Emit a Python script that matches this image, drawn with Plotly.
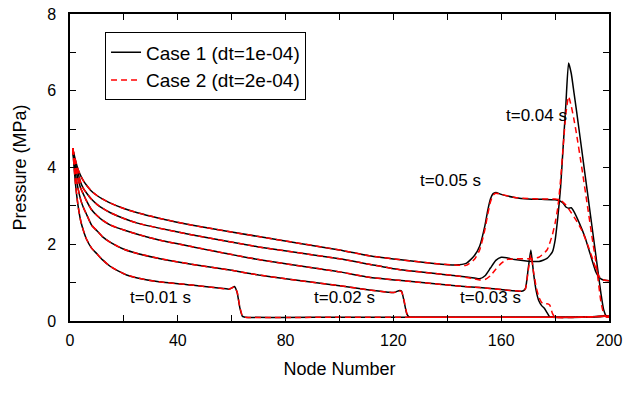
import plotly.graph_objects as go

# ---------------- data ----------------
# Case 1 (dt=1e-04), black solid
c1_t01_x = [1,2,3,4,5,6,8,10,12,15,18,21,25,33,45,55,59,60,61,62,63,64,65,100,150,190,200]
c1_t01_y = [4.5,3.6,3.0,2.6,2.35,2.15,1.9,1.75,1.6,1.42,1.3,1.2,1.12,1.02,0.94,0.86,0.83,0.86,0.9,0.75,0.35,0.12,0.1,0.1,0.1,0.1,0.13]

c1_t02_x = [1,2,3,4,5,6,8,10,12,15,20,25,33,45,60,70,80,100,111,118,120,121,122,123,124,125,126,127,150,190,200]
c1_t02_y = [4.5,3.85,3.45,3.15,2.95,2.8,2.5,2.35,2.2,2.05,1.87,1.76,1.63,1.48,1.32,1.2,1.1,0.92,0.81,0.75,0.74,0.76,0.79,0.78,0.5,0.18,0.1,0.1,0.1,0.1,0.13]

c1_t03_x = [1,2,3,4,5,6,8,10,12,15,20,25,33,45,70,100,111,122,143,152,160,168,169,170,171,172,173,174,175,176,177,178,179,190,200]
c1_t03_y = [4.5,4.0,3.7,3.45,3.3,3.15,2.9,2.75,2.63,2.5,2.37,2.26,2.11,1.94,1.6,1.28,1.14,1.06,0.92,0.87,0.82,0.78,0.85,1.35,1.85,1.25,0.78,0.52,0.4,0.33,0.22,0.11,0.1,0.1,0.13]

c1_t04_x = [1,2,3,4,5,6,8,10,12,15,20,25,33,45,70,100,111,122,143,150,152,154,156,158,160,162,165,170,174,177,179,180,181,182,183,184,185,186,187,188,190,192,194,196,197,198,199,200]
c1_t04_y = [4.5,4.1,3.85,3.6,3.45,3.35,3.17,3.04,2.94,2.82,2.67,2.55,2.42,2.25,1.93,1.62,1.48,1.34,1.18,1.12,1.1,1.18,1.38,1.58,1.66,1.65,1.6,1.56,1.55,1.63,1.8,2.1,2.7,3.45,4.55,5.65,6.72,6.45,5.95,5.45,4.4,3.35,2.3,1.25,0.72,0.3,0.13,0.1]

c1_t05_x = [1,2,3,4,5,6,8,10,12,15,20,25,33,45,70,100,111,122,135,143,147,150,152,154,155,156,157,158,160,165,170,175,180,182,183,184,185,186,187,189,191,193,195,196,197,198,200]
c1_t05_y = [4.5,4.2,3.95,3.78,3.65,3.55,3.38,3.27,3.18,3.07,2.93,2.82,2.68,2.5,2.2,1.85,1.7,1.6,1.5,1.46,1.5,1.7,1.95,2.5,2.88,3.18,3.32,3.35,3.3,3.22,3.18,3.17,3.16,3.12,3.07,2.97,2.94,2.95,2.85,2.55,2.2,1.75,1.3,1.17,1.1,1.07,1.05]

# Case 2 (dt=2e-04), red dashed
c2_t01_x = [1,2,3,4,5,6,8,10,12,15,18,21,25,33,45,55,59,60,61,62,63,64,65,100,150,190,200]
c2_t01_y = [4.5,3.6,3.0,2.6,2.35,2.15,1.9,1.75,1.6,1.42,1.3,1.2,1.12,1.02,0.94,0.86,0.83,0.86,0.89,0.76,0.37,0.13,0.1,0.1,0.1,0.1,0.13]

c2_t02_x = [1,2,3,4,5,6,8,10,12,15,20,25,33,45,60,70,80,100,111,118,120,121,122,123,124,125,126,127,150,190,200]
c2_t02_y = [4.5,3.85,3.45,3.15,2.95,2.8,2.5,2.35,2.2,2.05,1.87,1.76,1.63,1.48,1.32,1.2,1.1,0.92,0.81,0.75,0.74,0.76,0.78,0.77,0.52,0.2,0.1,0.1,0.1,0.1,0.13]

c2_t03_x = [1,2,3,4,5,6,8,10,12,15,20,25,33,45,70,100,111,122,143,152,160,168,169,170,171,172,173,174,175,176,177,178,179,180,190,200]
c2_t03_y = [4.5,4.0,3.7,3.45,3.3,3.15,2.9,2.75,2.63,2.5,2.37,2.26,2.11,1.94,1.6,1.28,1.14,1.06,0.92,0.87,0.82,0.78,0.84,1.3,1.72,1.28,0.88,0.62,0.48,0.43,0.45,0.42,0.2,0.1,0.1,0.13]

c2_t04_x = [1,2,3,4,5,6,8,10,12,15,20,25,33,45,70,100,111,122,143,150,152,154,156,158,160,162,165,170,174,177,179,180,181,182,183,184,185,186,187,188,190,192,194,195,196,197,198,199,200]
c2_t04_y = [4.5,4.1,3.85,3.6,3.45,3.35,3.17,3.04,2.94,2.82,2.67,2.55,2.42,2.25,1.93,1.62,1.48,1.34,1.18,1.1,1.07,1.08,1.18,1.35,1.5,1.6,1.62,1.62,1.66,1.85,2.25,2.55,2.95,3.65,4.55,5.4,5.85,5.6,5.25,4.85,3.95,3.0,2.05,1.6,1.05,0.5,0.2,0.1,0.1]

c2_t05_x = [1,2,3,4,5,6,8,10,12,15,20,25,33,45,70,100,111,122,135,143,147,150,152,154,155,156,157,158,160,165,170,175,180,182,184,186,188,190,192,194,196,197,198,200]
c2_t05_y = [4.5,4.2,3.95,3.78,3.65,3.55,3.38,3.27,3.18,3.07,2.93,2.82,2.68,2.5,2.2,1.85,1.7,1.6,1.5,1.46,1.45,1.6,1.85,2.4,2.78,3.1,3.28,3.33,3.3,3.22,3.19,3.18,3.18,3.15,3.02,2.82,2.6,2.35,2.0,1.6,1.2,1.1,1.07,1.05]

time_labels = ["t=0.01 s", "t=0.02 s", "t=0.03 s", "t=0.04 s", "t=0.05 s"]
label_x = [33.5, 102, 156, 173, 141]
label_y = [0.6, 0.6, 0.6, 5.36, 3.67]

legend_names = ["Case 1 (dt=1e-04)", "Case 2 (dt=2e-04)"]
x_tick_vals = [0, 20, 40, 60, 80, 100, 120, 140, 160, 180, 200]
x_tick_text = ["0", "", "40", "", "80", "", "120", "", "160", "", "200"]
y_tick_vals = [0, 1, 2, 3, 4, 5, 6, 7, 8]
y_tick_text = ["0", "", "2", "", "4", "", "6", "", "8"]

# ---------------- figure ----------------
FONT = "Liberation Sans, Arial, sans-serif"
fig = go.Figure()

case1 = [(c1_t01_x, c1_t01_y), (c1_t02_x, c1_t02_y), (c1_t03_x, c1_t03_y),
         (c1_t04_x, c1_t04_y), (c1_t05_x, c1_t05_y)]
case2 = [(c2_t01_x, c2_t01_y), (c2_t02_x, c2_t02_y), (c2_t03_x, c2_t03_y),
         (c2_t04_x, c2_t04_y), (c2_t05_x, c2_t05_y)]

for i, (xs, ys) in enumerate(case1):
    fig.add_trace(go.Scatter(
        x=xs, y=ys, mode="lines", name=legend_names[0], legendgroup="c1",
        showlegend=(i == 0),
        line=dict(color="black", width=1.5, shape="spline", smoothing=0.5)))
for i, (xs, ys) in enumerate(case2):
    fig.add_trace(go.Scatter(
        x=xs, y=ys, mode="lines", name=legend_names[1], legendgroup="c2",
        showlegend=(i == 0),
        line=dict(color="#ff0000", width=1.5, dash="6px,4px", shape="spline", smoothing=0.5)))

for t, lx, ly in zip(time_labels, label_x, label_y):
    fig.add_annotation(x=lx, y=ly, text=t, showarrow=False,
                       font=dict(family=FONT, size=17, color="black"))

axis_common = dict(showline=True, linecolor="black", linewidth=1.5, mirror="ticks",
                   ticks="inside", ticklen=6, tickwidth=1, tickcolor="black",
                   showgrid=False, zeroline=False, automargin=False,
                   tickfont=dict(family=FONT, size=16, color="black"))

fig.update_xaxes(range=[0, 200], tickmode="array", tickvals=x_tick_vals, ticktext=x_tick_text,
                 ticklabelstandoff=4,
                 title=dict(text="Node Number", font=dict(family=FONT, size=18, color="black"), standoff=14),
                 **axis_common)
fig.update_yaxes(range=[0, 8], tickmode="array", tickvals=y_tick_vals, ticktext=y_tick_text,
                 ticklabelstandoff=9,
                 title=dict(text="Pressure (MPa)", font=dict(family=FONT, size=18, color="black"), standoff=16),
                 **axis_common)

fig.update_layout(
    width=626, height=396,
    margin=dict(l=70, r=17, t=14, b=75, autoexpand=False),
    paper_bgcolor="white", plot_bgcolor="white",
    font=dict(family=FONT, color="black"),
    legend=dict(x=0.065, y=0.94, xanchor="left", yanchor="top",
                bordercolor="black", borderwidth=1, bgcolor="white",
                font=dict(family=FONT, size=19, color="black"),
                tracegroupgap=0),
)

fig.write_html("out.html")
